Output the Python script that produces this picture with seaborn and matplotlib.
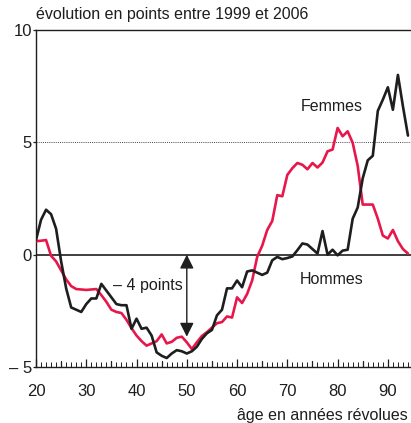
import numpy as np
import pandas as pd
import matplotlib
matplotlib.use("Agg")
import matplotlib.pyplot as plt
import seaborn as sns

# ages 20..94
ages = list(range(20, 95))

hommes = [0.65, 1.55, 2.0, 1.8, 1.15, -0.3, -1.5, -2.35, -2.45, -2.55,
          -2.2, -1.95, -1.95, -1.3, -1.6, -1.9, -2.2, -2.25, -2.25, -3.3,
          -2.85, -3.3, -3.25, -3.6, -4.35, -4.5, -4.6, -4.4, -4.25, -4.3,
          -4.4, -4.3, -4.1, -3.75, -3.5, -3.35, -2.7, -2.45, -1.5, -1.5,
          -1.15, -1.45, -0.75, -0.7, -0.8, -0.9, -0.8, -0.25, -0.1, -0.2,
          -0.15, -0.08, 0.2, 0.5, 0.45, 0.25, 0.05, 1.05, 0.0, 0.22,
          -0.03, 0.18, 0.22, 1.6, 2.1, 3.4, 4.2, 4.4, 6.4, 6.9,
          7.45, 6.45, 8.0, 6.6, 5.3]

femmes = [0.6, 0.62, 0.65, -0.05, -0.3, -0.7, -1.1, -1.4, -1.53, -1.55,
          -1.57, -1.55, -1.53, -1.8, -2.1, -2.45, -2.55, -2.6, -2.9, -3.27,
          -3.6, -3.85, -4.05, -3.95, -3.85, -3.55, -3.95, -3.88, -3.7, -3.65,
          -3.9, -4.2, -3.9, -3.62, -3.45, -3.25, -3.05, -3.0, -2.75, -2.8,
          -1.9, -2.15, -1.75, -1.15, -0.1, 0.4, 1.1, 1.5, 2.65, 2.6,
          3.55, 3.85, 4.08, 4.0, 3.8, 4.08, 3.88, 4.1, 4.6, 4.68,
          5.64, 5.27, 5.49, 4.98, 3.95, 2.23, 2.23, 2.23, 1.6, 0.85,
          0.72, 1.1, 0.6, 0.25, 0.05]

yticks = [-5, 0, 5, 10]
ytick_labels = ["\u2013 5", "0", "5", "10"]
xticks = [20, 30, 40, 50, 60, 70, 80, 90]

df = pd.DataFrame({
    "age": ages * 2,
    "evolution": hommes + femmes,
    "sexe": ["Hommes"] * len(ages) + ["Femmes"] * len(ages),
})

sns.set_style("white")
plt.rcParams["font.family"] = ["Liberation Sans", "DejaVu Sans"]

fig = plt.figure(figsize=(4.11, 4.23), dpi=100)
ax = fig.add_axes([36 / 411, 56 / 423, 377 / 411, 337 / 423])

sns.lineplot(data=df, x="age", y="evolution", hue="sexe",
             palette={"Hommes": "#1e1e1e", "Femmes": "#e8174b"},
             hue_order=["Femmes", "Hommes"],
             linewidth=1.9, legend=False, ax=ax, zorder=3)

ax.axhline(0, color="#1e1e1e", lw=1.2, zorder=2)
ax.axhline(5, color="#444444", lw=0.7, ls=(0, (1, 1.2)), zorder=1)

ax.set_xlim(20, 95)
ax.set_ylim(-5, 10)
ax.set_xlabel("")
ax.set_ylabel("")

ax.spines["right"].set_visible(False)
for s in ["left", "top", "bottom"]:
    ax.spines[s].set_color("#1e1e1e")
    ax.spines[s].set_linewidth(1.0)

ax.set_xticks(xticks)
ax.set_xticks(range(20, 96), minor=True)
ax.tick_params(axis="x", which="major", direction="in", length=6, width=0.9,
               pad=12, labelsize=12, colors="#1e1e1e", bottom=True)
ax.tick_params(axis="x", which="minor", direction="in", length=3.5, width=0.7,
               colors="#1e1e1e", bottom=True)
ax.set_yticks(yticks)
ax.set_yticklabels(ytick_labels)
ax.tick_params(axis="y", direction="out", length=2, width=0.9, pad=1,
               labelsize=12, colors="#1e1e1e", left=True)
# medium ticks every 5 years
for a in range(25, 95, 10):
    ax.plot([a, a], [-5, -5 + 0.27], color="#1e1e1e", lw=0.9,
            clip_on=False, zorder=4)

# double arrow "- 4 points"
ax.annotate("", xy=(50, 0), xytext=(50, -3.65),
            arrowprops=dict(arrowstyle="<|-|>", color="#1e1e1e", lw=1.0,
                            mutation_scale=21, shrinkA=0, shrinkB=0))
ax.text(49.2, -1.38, "\u2013 4 points", ha="right", va="center",
        fontsize=11.5, color="#1e1e1e")

ax.text(78.8, 6.6, "Femmes", ha="center", va="center", fontsize=11.5,
        color="#1e1e1e")
ax.text(78.8, -1.1, "Hommes", ha="center", va="center", fontsize=11.5,
        color="#1e1e1e")

fig.text(36 / 411, 1 - 15 / 423, "évolution en points entre 1999 et 2006",
         ha="left", va="center", fontsize=11.5, color="#1e1e1e")
fig.text(408 / 411, 1 - 415 / 423, "âge en années révolues",
         ha="right", va="center", fontsize=11.5, color="#1e1e1e")

fig.savefig("out.png", dpi=100)
